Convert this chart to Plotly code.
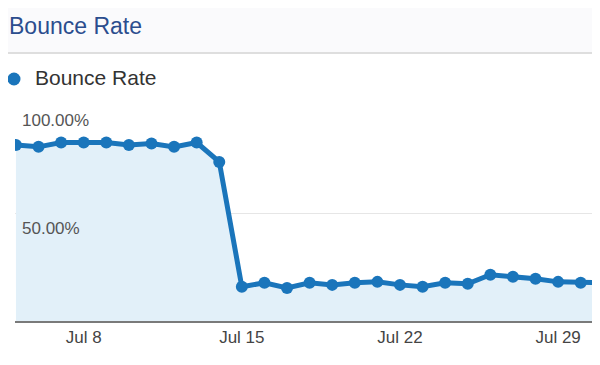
import plotly.graph_objects as go
import pandas as pd

# ---- data ----
dates = pd.date_range("2013-07-05", "2013-07-31", freq="D")
bounce_rate = [81.9, 81.0, 83.0, 83.0, 83.0, 81.9, 82.6, 81.0, 83.0, 74.0,
               15.9, 17.8, 15.4, 17.8, 16.8, 17.8, 18.2, 16.8, 15.9, 17.8,
               17.3, 21.5, 20.6, 19.6, 18.2, 17.8, 17.8]
x_tick_dates = ["2013-07-08", "2013-07-15", "2013-07-22", "2013-07-29"]
x_tick_labels = ["Jul 8", "Jul 15", "Jul 22", "Jul 29"]
y_tick_vals = [50, 100]
y_tick_labels = ["50.00%", "100.00%"]
series_name = "Bounce Rate"
chart_title = "Bounce Rate"

# ---- style ----
OFF = 8                      # page body margin offset
W, H = 600 - OFF, 365 - OFF  # figure size
PLOT_LEFT, PLOT_RIGHT, PLOT_TOP, PLOT_BOTTOM = 15, 592, 106, 321  # page px
L = PLOT_LEFT - OFF
R = W - (PLOT_RIGHT - OFF)
T = PLOT_TOP - OFF
B = H - (PLOT_BOTTOM - OFF)
PW, PH = W - L - R, H - T - B
LINE = "#1a75bb"
FILL = "#e2f0f9"
FONT = "Liberation Sans, Arial, sans-serif"


def px_x(p):
    return (p - PLOT_LEFT) / PW


def px_y(p):
    return (PLOT_BOTTOM - p) / PH


fig = go.Figure()
fig.add_trace(go.Scatter(
    x=dates, y=bounce_rate, mode="lines+markers",
    line=dict(color=LINE, width=5),
    marker=dict(color=LINE, size=12),
    fill="tozeroy", fillcolor=FILL,
    name=series_name, showlegend=False, hoverinfo="x+y",
))

shapes = [
    dict(type="rect", xref="paper", yref="paper", x0=px_x(0), x1=px_x(600),
         y0=px_y(53), y1=px_y(0), fillcolor="#fafafc", line=dict(width=0), layer="below"),
    dict(type="line", xref="paper", yref="paper", x0=px_x(8), x1=px_x(592),
         y0=px_y(53), y1=px_y(53), line=dict(color="#dedede", width=2)),
    dict(type="circle", xref="paper", yref="paper", xsizemode="pixel", ysizemode="pixel",
         xanchor=px_x(14), yanchor=px_y(79), x0=-6.5, x1=6.5, y0=-6.5, y1=6.5,
         fillcolor=LINE, line=dict(width=0)),
]

annotations = [
    dict(text=chart_title, xref="paper", yref="paper", x=px_x(8), y=px_y(26),
         xanchor="left", yanchor="middle", showarrow=False, borderpad=0,
         font=dict(family=FONT, size=23, color="#2b4d8e")),
    dict(text=series_name, xref="paper", yref="paper", x=px_x(33), y=px_y(78),
         xanchor="left", yanchor="middle", showarrow=False,
         font=dict(family=FONT, size=21, color="#333333")),
]
for v, t in zip(y_tick_vals, y_tick_labels):
    annotations.append(dict(text=t, xref="paper", yref="y", x=px_x(20), y=v,
                            xanchor="left", yanchor="top", yshift=-3, showarrow=False,
                            font=dict(family=FONT, size=17, color="#555555")))

fig.update_layout(
    width=W, height=H,
    margin=dict(l=L, r=R, t=T, b=B),
    paper_bgcolor="white", plot_bgcolor="white",
    shapes=shapes, annotations=annotations,
    showlegend=False,
    xaxis=dict(
        range=["2013-07-04 23:00", "2013-07-30 12:00"],
        tickvals=x_tick_dates, ticktext=x_tick_labels,
        showgrid=False, zeroline=False,
        showline=True, linecolor="#7a7a7a", linewidth=2,
        ticks="", tickfont=dict(family=FONT, size=17, color="#444444"),
        fixedrange=True,
    ),
    yaxis=dict(
        range=[0, 100], tickvals=y_tick_vals, showticklabels=False,
        showgrid=True, gridcolor="#e6e6e6", gridwidth=1,
        zeroline=False, showline=False, fixedrange=True,
    ),
)

fig.write_html("out.html")
